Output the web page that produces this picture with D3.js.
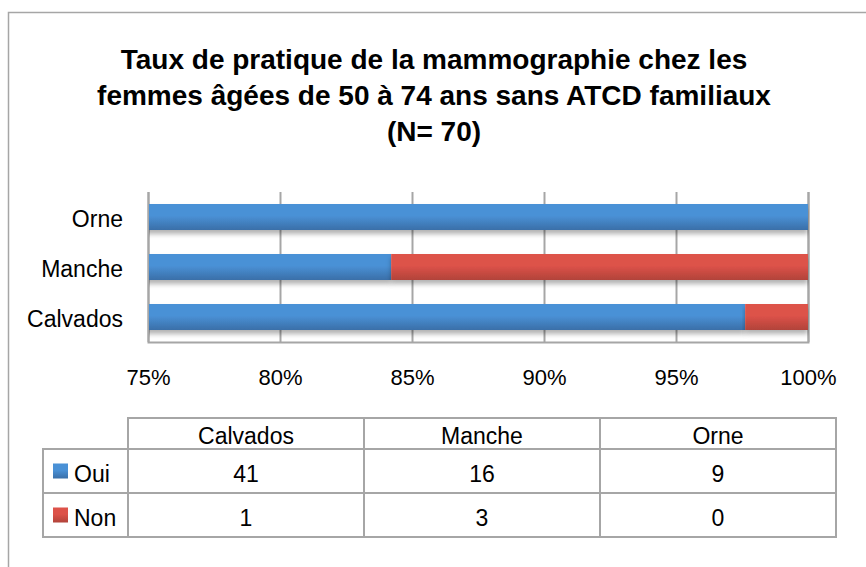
<!DOCTYPE html>
<html>
<head>
<meta charset="utf-8">
<script src="https://cdn.jsdelivr.net/npm/d3@7"></script>
<style>
  body { margin: 0; background: #fff; }
  text { font-family: "Liberation Sans", Arial, sans-serif; fill: #000; }
</style>
</head>
<body>
<svg id="chart"></svg>
<script>
//------------------------------------------------------------
// Data
const categories = ["Calvados", "Manche", "Orne"];
const oui = [41, 16, 9];
const non = [1, 3, 0];
const seriesNames = ["Oui", "Non"];
const tickValues = [0.75, 0.80, 0.85, 0.90, 0.95, 1.00];
const titleLines = [
  "Taux de pratique de la mammographie chez les",
  "femmes âgées de 50 à 74 ans sans ATCD familiaux",
  "(N= 70)"
];

//------------------------------------------------------------
// Setup
const W = 866, H = 567;
const svg = d3.select("#chart").attr("width", W).attr("height", H);

const colors = { Oui: ["#4a91d6", "#3a6fa8"], Non: ["#dd5249", "#b1433a"] };
const defs = svg.append("defs");
seriesNames.forEach(s => {
  const lg = defs.append("linearGradient")
    .attr("id", "grad" + s).attr("x1", 0).attr("y1", 0).attr("x2", 0).attr("y2", 1);
  lg.append("stop").attr("offset", "0%").attr("stop-color", colors[s][0]);
  lg.append("stop").attr("offset", "45%").attr("stop-color", colors[s][0]);
  lg.append("stop").attr("offset", "100%").attr("stop-color", colors[s][1]);
});
const shadow = defs.append("filter").attr("id", "shadow")
  .attr("x", "-5%").attr("y", "-20%").attr("width", "110%").attr("height", "160%");
shadow.append("feDropShadow")
  .attr("dx", 0).attr("dy", 4).attr("stdDeviation", 2.5)
  .attr("flood-color", "#000").attr("flood-opacity", 0.3);

// outer frame (extends past the right/bottom edge)
svg.append("rect")
  .attr("x", 8.5).attr("y", 12.5).attr("width", 900).attr("height", 600)
  .attr("fill", "none").attr("stroke", "#a6a6a6").attr("stroke-width", 1.5);

// title
svg.append("g").selectAll("text")
  .data(titleLines)
  .join("text")
  .attr("x", 434)
  .attr("y", (d, i) => 69 + i * 36)
  .attr("text-anchor", "middle")
  .style("font-size", "28px")
  .style("font-weight", "bold")
  .text(d => d);

//------------------------------------------------------------
// Scales
const x = d3.scaleLinear().domain([0.75, 1]).range([148, 808]);
const y = d3.scaleBand()
  .domain(categories.slice().reverse())
  .range([192, 342])
  .paddingInner(0.48)
  .paddingOuter(0.24);

// gridlines
const grid = svg.append("g")
  .attr("transform", "translate(0,342)")
  .call(d3.axisBottom(x).tickValues(tickValues).tickSize(-150).tickFormat(""));
grid.select(".domain").attr("stroke", "#a6a6a6").attr("stroke-width", 2);
grid.selectAll(".tick line").attr("stroke", "#a6a6a6").attr("stroke-width", 2);

// tick labels
const xAxis = svg.append("g")
  .attr("transform", "translate(0,369)")
  .call(d3.axisBottom(x).tickValues(tickValues).tickSize(0).tickFormat(d3.format(".0%")));
xAxis.select(".domain").remove();
xAxis.selectAll("text").style("font-size", "22px").attr("dy", "0.71em").attr("y", 0);

// category labels
const yAxis = svg.append("g")
  .attr("transform", "translate(123,3)")
  .call(d3.axisLeft(y).tickSize(0).tickPadding(0));
yAxis.select(".domain").remove();
yAxis.selectAll("text").style("font-size", "23px");

//------------------------------------------------------------
// Stacked bars (100%)
const rows = categories.map((c, i) => ({ cat: c, Oui: oui[i], Non: non[i] }));
const stacked = d3.stack().keys(seriesNames).offset(d3.stackOffsetExpand)(rows);

defs.append("clipPath").attr("id", "plotClip")
  .append("rect").attr("x", 149).attr("y", 150).attr("width", 660).attr("height", 220);

const bars = svg.append("g").attr("clip-path", "url(#plotClip)");
bars.selectAll("g")
  .data(stacked)
  .join("g")
  .attr("fill", d => `url(#grad${d.key})`)
  .selectAll("rect")
  .data(d => d)
  .join("rect")
  .attr("x", d => x(d[0]))
  .attr("y", d => y(d.data.cat))
  .attr("width", d => Math.max(0, x(d[1]) - x(d[0])))
  .attr("height", y.bandwidth())
  .attr("filter", "url(#shadow)");

//------------------------------------------------------------
// Data table
const colX = d3.scaleBand().domain(categories).range([128, 836]);
const tableTop = 418, headerH = 31, rowH = 44;
const legendLeft = 43;
const tbl = svg.append("g")
  .attr("stroke", "#a6a6a6").attr("stroke-width", 2).attr("fill", "none");

tbl.append("rect").attr("x", 128).attr("y", tableTop).attr("width", 708).attr("height", headerH + 2 * rowH);
tbl.append("rect").attr("x", legendLeft).attr("y", tableTop + headerH).attr("width", 128 - legendLeft).attr("height", 2 * rowH);
categories.slice(1).forEach(c => {
  tbl.append("line").attr("x1", colX(c)).attr("x2", colX(c))
    .attr("y1", tableTop).attr("y2", tableTop + headerH + 2 * rowH);
});
[tableTop + headerH, tableTop + headerH + rowH].forEach(yy => {
  tbl.append("line").attr("x1", legendLeft).attr("x2", 836).attr("y1", yy).attr("y2", yy);
});

// header texts
svg.append("g").selectAll("text")
  .data(categories)
  .join("text")
  .attr("x", d => colX(d) + colX.bandwidth() / 2)
  .attr("y", tableTop + 26)
  .attr("text-anchor", "middle")
  .style("font-size", "23px")
  .text(d => d);

// series rows
const seriesVals = { Oui: oui, Non: non };
seriesNames.forEach((s, si) => {
  const rowY = tableTop + headerH + si * rowH;
  svg.append("rect")
    .attr("x", 53).attr("y", rowY + rowH / 2 - 7.5)
    .attr("width", 15).attr("height", 15)
    .attr("fill", `url(#grad${s})`);
  svg.append("text")
    .attr("x", 74).attr("y", rowY + 33)
    .style("font-size", "23px")
    .text(s);
  svg.append("g").selectAll("text")
    .data(seriesVals[s])
    .join("text")
    .attr("x", (d, i) => colX(categories[i]) + colX.bandwidth() / 2)
    .attr("y", rowY + 33)
    .attr("text-anchor", "middle")
    .style("font-size", "23px")
    .text(d => d);
});
</script>
</body>
</html>
